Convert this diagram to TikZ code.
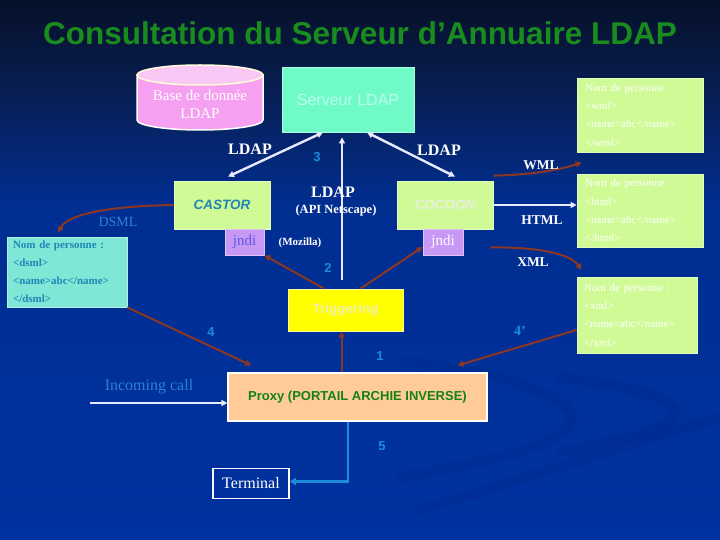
\documentclass[tikz,border=0pt]{standalone}
\usepackage{fontspec}
\setmainfont{Liberation Serif}
\newfontfamily\arial{Liberation Sans}
\usetikzlibrary{arrows.meta}
\definecolor{bgT}{RGB}{6,16,40}
\definecolor{bgU}{RGB}{8,30,80}
\definecolor{bgM}{RGB}{0,46,145}
\definecolor{bgB}{RGB}{0,50,160}
\pgfdeclareverticalshading{bgshade}{100bp}{color(0bp)=(bgB); color(25bp)=(bgB); color(56bp)=(bgM); color(67bp)=(bgU); color(75bp)=(bgT); color(100bp)=(bgT)}
\definecolor{titlegreen}{RGB}{25,140,30}
\definecolor{pinkbody}{RGB}{245,160,240}
\definecolor{pinktop}{RGB}{250,200,245}
\definecolor{aqua}{RGB}{112,250,200}
\definecolor{aquatext}{RGB}{185,255,235}
\definecolor{lgreen}{RGB}{208,250,150}
\definecolor{lavender}{RGB}{200,152,245}
\definecolor{jnditext}{RGB}{90,90,225}
\definecolor{dsmlfill}{RGB}{128,230,214}
\definecolor{dsmltext}{RGB}{30,135,180}
\definecolor{trigyellow}{RGB}{255,255,0}
\definecolor{trigtext}{RGB}{240,240,170}
\definecolor{peach}{RGB}{255,204,153}
\definecolor{proxytext}{RGB}{20,130,20}
\definecolor{brownc}{RGB}{140,55,35}
\definecolor{numblue}{RGB}{30,140,220}
\definecolor{lblblue}{RGB}{45,130,210}
\definecolor{wline}{RGB}{232,232,255}
\definecolor{cocoontext}{RGB}{230,240,220}
\definecolor{swirl}{RGB}{0,38,135}
\tikzset{
  boxbase/.style={inner sep=0pt, line width=0.8pt},
  greenbox/.style={boxbase, fill=lgreen, draw=lgreen!60!white},
  jndibox/.style={boxbase, fill=lavender, draw=lavender!60!white, font=\fontsize{15}{18}\selectfont},
  infobox/.style={boxbase, fill=lgreen, draw=lgreen!60!white, text=white, align=left,
     font=\fontsize{11}{18.3}\selectfont, text width=110pt},
  wlbl/.style={text=white, font=\bfseries\fontsize{15}{18}\selectfont},
  slbl/.style={text=white, font=\bfseries\fontsize{13.5}{16}\selectfont},
  num/.style={text=numblue, font=\arial\bfseries\fontsize{13}{15}\selectfont},
  warrow/.style={draw=wline, line width=2.4pt, -{Triangle[length=6pt,width=6pt]}},
  wdarrow/.style={draw=wline, line width=2.4pt, {Triangle[length=6pt,width=6pt]}-{Triangle[length=6pt,width=6pt]}},
  barrow/.style={draw=brownc, line width=2pt, -{Triangle[length=6pt,width=6pt]}},
  swirlband/.style={draw=swirl, line width=10pt, opacity=0.28, line cap=round},
}
\begin{document}
\begin{tikzpicture}[x=1pt,y=-1pt]
\shade[shading=bgshade] (0,0) rectangle (720,540);
\useasboundingbox (0,0) rectangle (720,540);

% faint background swirl
\draw[swirlband] (405,362) .. controls (520,372) and (585,405) .. (570,425) .. controls (555,448) and (480,462) .. (400,478);
\draw[swirlband] (560,378) .. controls (640,385) and (690,405) .. (672,420) .. controls (655,435) and (610,442) .. (560,452);
\draw[swirlband] (720,418) .. controls (640,440) and (520,480) .. (420,510);

% title
\node[text=titlegreen, font=\arial\bfseries\fontsize{31.5}{36}\selectfont] (title) at (360,33) {Consultation du Serveur d’Annuaire LDAP};

% database cylinder
\filldraw[fill=pinkbody, draw=white, line width=1.5pt] (137,75) -- (137,120) arc[start angle=180,end angle=0,x radius=63,y radius=10] -- (263,75) -- cycle;
\filldraw[fill=pinktop, draw=white!85!yellow, line width=1.5pt] (200,75) ellipse [x radius=63, y radius=10];
\node[text=white, font=\fontsize{15}{18}\selectfont, align=center] (db) at (200,104) {Base de donnée\\LDAP};

% boxes
\node[boxbase, fill=aqua, draw=aqua!60!white, minimum width=132pt, minimum height=65pt, text=aquatext, font=\arial\fontsize{16}{19}\selectfont] (serveur) at (348,99.5) {Serveur LDAP};
\node[greenbox, minimum width=96pt, minimum height=48pt, text=dsmltext, font=\arial\bfseries\itshape\fontsize{13.5}{16}\selectfont] (castor) at (222,205) {CASTOR};
\node[jndibox, minimum width=39pt, minimum height=26pt, text=jnditext] (jndiL) at (244.5,242) {jndi};
\node[greenbox, minimum width=96pt, minimum height=48pt, text=cocoontext, font=\arial\bfseries\itshape\fontsize{13.5}{16}\selectfont] (cocoon) at (445,205) {COCOON};
\node[jndibox, minimum width=40pt, minimum height=26pt, text=white] (jndiR) at (443,242) {jndi};

\node[boxbase, fill=dsmlfill, draw=dsmlfill!60!white, minimum width=120pt, minimum height=70pt, text=dsmltext, align=left, text width=108pt, font=\bfseries\fontsize{11}{18}\selectfont] (dsml) at (67,272) {Nom de personne :\\<dsml>\\<name>abc</name>\\</dsml>};

\node[infobox, minimum width=126pt, minimum height=74pt] (wmlbox) at (640,115) {Nom de personne :\\<wml>\\<name>abc</name>\\</wml>};
\node[infobox, minimum width=126pt, minimum height=73pt] (htmlbox) at (640,210.5) {Nom de personne :\\<html>\\<name>abc</name>\\</html>};
\node[infobox, minimum width=120pt, minimum height=76pt, text width=106pt] (xmlbox) at (637,315) {Nom de personne :\\<xml>\\<name>abc</name>\\</xml>};

\node[boxbase, fill=trigyellow, draw=white!60!yellow, minimum width=115pt, minimum height=42pt, text=trigtext, font=\arial\bfseries\fontsize{13.5}{16}\selectfont] (trig) at (345.5,310) {Triggering};
\node[boxbase, fill=peach, draw=white, line width=1.2pt, minimum width=259pt, minimum height=48pt, text=proxytext, font=\arial\bfseries\fontsize{13}{16}\selectfont] (proxy) at (357.5,397) {Proxy (PORTAIL ARCHIE INVERSE)};
\node[boxbase, draw=white, line width=1.6pt, minimum width=76pt, minimum height=30pt, text=white, font=\fontsize{16}{19}\selectfont] (term) at (251,483.5) {Terminal};

% white connectors
\draw[wdarrow] ([xshift=-25pt]serveur.south) -- ([xshift=6pt,yshift=4pt]castor.north);
\draw[wdarrow] ([xshift=19pt]serveur.south) -- ([xshift=10pt,yshift=4pt]cocoon.north);
\draw[warrow] ([xshift=-3.5pt,yshift=9pt]trig.north) -- ([xshift=-6pt,yshift=-5pt]serveur.south);
\draw[warrow] (cocoon.east) -- ([yshift=5.5pt]htmlbox.west);
\coordinate (inc) at (90,403);
\draw[warrow] (inc) -- ([yshift=-6pt]proxy.west);

% brown connectors
\draw[barrow] (castor.west) .. controls (110,206) and (68,214) .. ([xshift=-9pt,yshift=4pt]dsml.north);
\draw[barrow] ([xshift=-21.5pt]trig.north) -- (jndiL.south east);
\draw[barrow] ([xshift=15pt]trig.north) -- ([yshift=-5pt]jndiR.west);
\draw[barrow] ([xshift=-16pt]proxy.north) -- ([xshift=-4pt]trig.south);
\draw[barrow] (dsml.south east) -- ([xshift=24pt,yshift=7pt]proxy.north west);
\draw[barrow] ([yshift=-15pt]xmlbox.west) -- ([xshift=-30pt,yshift=7pt]proxy.north east);
\draw[barrow] ([yshift=5pt]cocoon.north east) .. controls (530,175) and (560,170) .. ([xshift=5pt,yshift=-10pt]wmlbox.south west);
\draw[barrow] ([xshift=-3pt,yshift=-18pt]cocoon.south east) .. controls (540,247) and (570,254) .. ([xshift=5pt,yshift=7pt]xmlbox.north west);

% blue connector
\draw[draw=numblue, line width=2.6pt, -{Triangle[length=6pt,width=7pt]}] ([xshift=-9.5pt]proxy.south) |- ([yshift=2pt]term.east);

% labels
\node[wlbl, font=\bfseries\fontsize{16}{19}\selectfont] (l1) at (250,149) {LDAP};
\node[wlbl, font=\bfseries\fontsize{16}{19}\selectfont] (l2) at (439,150) {LDAP};
\node[wlbl, font=\bfseries\fontsize{16}{19}\selectfont] (l3) at (333,192) {LDAP};
\node[slbl, font=\bfseries\fontsize{12.5}{15}\selectfont] (l4) at (336,210) {(API Netscape)};
\node[slbl, font=\bfseries\fontsize{11}{13}\selectfont] (l5) at (300,243) {(Mozilla)};
\node[slbl] (l6) at (541,165) {WML};
\node[slbl] (l7) at (542,220) {HTML};
\node[slbl] (l8) at (533,262) {XML};
\node[text=lblblue, font=\fontsize{14}{17}\selectfont] (l9) at (118,222) {DSML};
\node[text=lblblue, font=\fontsize{16}{19}\selectfont] (l10) at (149,387) {Incoming call};
\node[num] (n3) at (317,157) {3};
\node[num] (n2) at (328,268) {2};
\node[num] (n4) at (211,332) {4};
\node[num, font=\bfseries\fontsize{14}{16}\selectfont] (n4p) at (520,331) {4’};
\node[num] (n1) at (380,356) {1};
\node[num] (n5) at (382,446) {5};
\end{tikzpicture}
\end{document}
